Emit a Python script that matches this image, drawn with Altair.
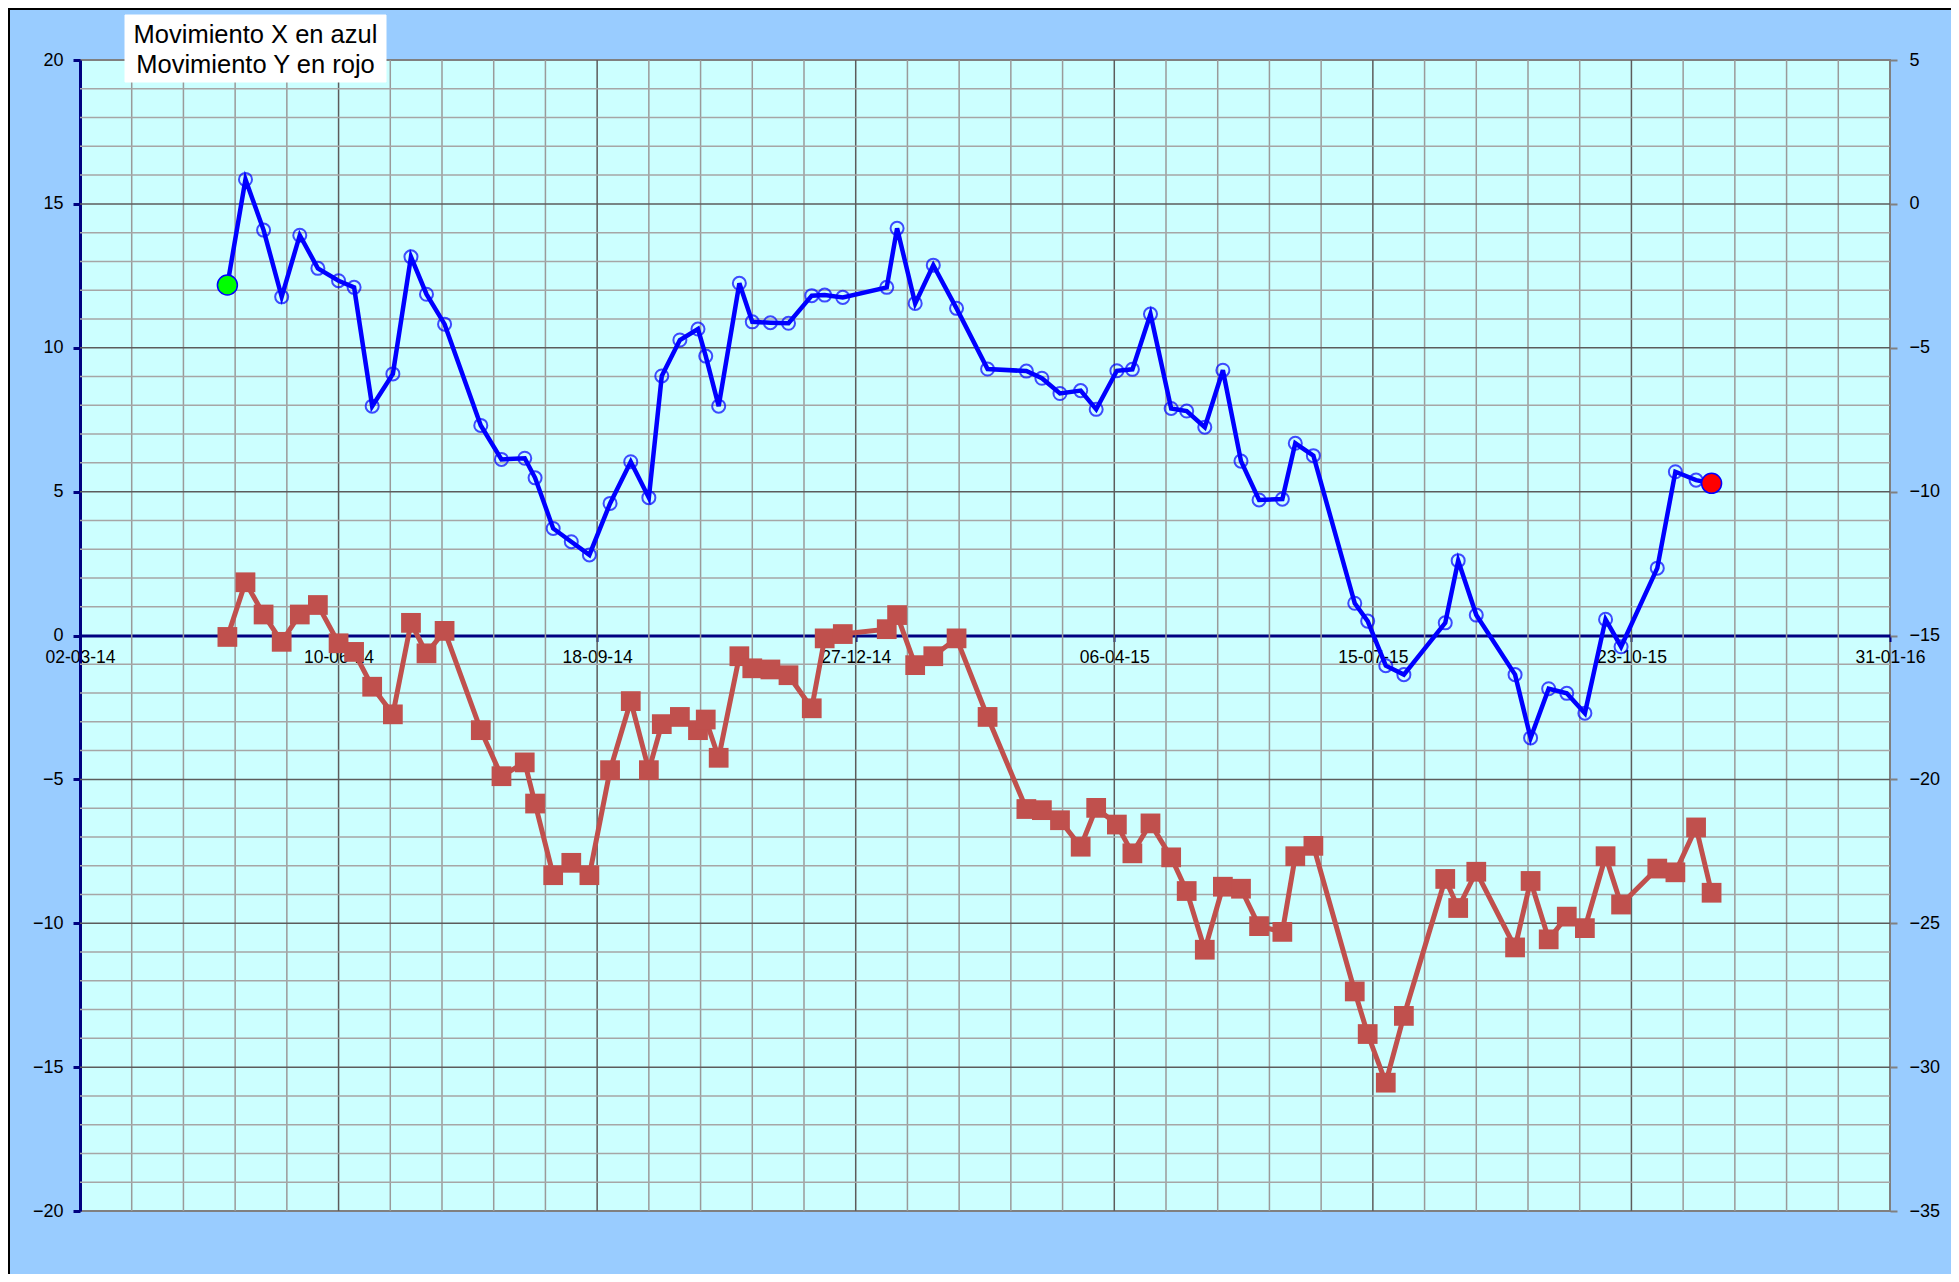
import altair as alt
import pandas as pd

DATES = [
    "2014-04-28", "2014-05-05", "2014-05-12", "2014-05-19", "2014-05-26", "2014-06-02", "2014-06-10", "2014-06-16", "2014-06-23", "2014-07-01",
    "2014-07-08", "2014-07-14", "2014-07-21", "2014-08-04", "2014-08-12", "2014-08-21", "2014-08-25", "2014-09-01", "2014-09-08", "2014-09-15",
    "2014-09-23", "2014-10-01", "2014-10-08", "2014-10-13", "2014-10-20", "2014-10-27", "2014-10-30", "2014-11-04", "2014-11-12", "2014-11-17",
    "2014-11-24", "2014-12-01", "2014-12-10", "2014-12-15", "2014-12-22", "2015-01-08", "2015-01-12", "2015-01-19", "2015-01-26", "2015-02-04",
    "2015-02-16", "2015-03-03", "2015-03-09", "2015-03-16", "2015-03-24", "2015-03-30", "2015-04-07", "2015-04-13", "2015-04-20", "2015-04-28",
    "2015-05-04", "2015-05-11", "2015-05-18", "2015-05-25", "2015-06-01", "2015-06-10", "2015-06-15", "2015-06-22", "2015-07-08", "2015-07-13",
    "2015-07-20", "2015-07-27", "2015-08-12", "2015-08-17", "2015-08-24", "2015-09-08", "2015-09-14", "2015-09-21", "2015-09-28", "2015-10-05",
    "2015-10-13", "2015-10-19", "2015-11-02", "2015-11-09", "2015-11-17", "2015-11-23",
]

# Movimiento X (left axis)
MOV_X = [
    12.18, 15.85, 14.09, 11.77, 13.91, 12.76, 12.33, 12.10, 7.97, 9.09,
    13.16, 11.86, 10.82, 7.30, 6.12, 6.16, 5.48, 3.72, 3.26, 2.80,
    4.59, 6.04, 4.79, 9.02, 10.27, 10.65, 9.71, 7.97, 12.24, 10.90,
    10.87, 10.85, 11.81, 11.83, 11.75, 12.10, 14.15, 11.54, 12.87, 11.37,
    9.26, 9.19, 8.94, 8.41, 8.51, 7.86, 9.20, 9.25, 11.17, 7.89,
    7.80, 7.24, 9.22, 6.06, 4.71, 4.74, 6.68, 6.25, 1.12, 0.50,
    -1.05, -1.36, 0.44, 2.60, 0.71, -1.36, -3.56, -1.85, -2.01, -2.70,
    0.56, -0.39, 2.34, 5.69, 5.40, 5.29,
]

# Movimiento Y (right axis)
MOV_Y = [
    -15.05, -13.15, -14.27, -15.22, -14.27, -13.94, -15.27, -15.57, -16.78, -17.74,
    -14.56, -15.62, -14.84, -18.29, -19.89, -19.41, -20.84, -23.33, -22.90, -23.33,
    -19.68, -17.28, -19.68, -18.08, -17.83, -18.29, -17.92, -19.25, -15.72, -16.14,
    -16.18, -16.38, -17.53, -15.10, -14.95, -14.78, -14.29, -16.03, -15.72, -15.10,
    -17.83, -21.03, -21.07, -21.42, -22.34, -20.99, -21.57, -22.57, -21.53, -22.71,
    -23.88, -25.92, -23.73, -23.80, -25.10, -25.30, -22.67, -22.31, -27.37, -28.85,
    -30.54, -28.22, -23.46, -24.47, -23.21, -25.84, -23.53, -25.56, -24.77, -25.17,
    -22.67, -24.35, -23.10, -23.23, -21.67, -23.94,
]

X_TICKS = ["2014-03-02", "2014-06-10", "2014-09-18", "2014-12-27",
           "2015-04-06", "2015-07-15", "2015-10-23", "2016-01-31"]
Y_LEFT_TICKS = [-20, -15, -10, -5, 0, 5, 10, 15, 20]
Y_RIGHT_TICKS = [-35, -30, -25, -20, -15, -10, -5, 0, 5]
LEGEND_LINES = ["Movimiento X en azul", "Movimiento Y en rojo"]

FONT = "Liberation Sans"
NAVY = "#000080"

# ---- grid positions (derived from tick positions) ----
all_x_grid = [d.strftime("%Y-%m-%d") for d in pd.date_range(X_TICKS[0], X_TICKS[-1], freq="20D")]
x_major_grid = X_TICKS[1:-1]
x_minor_grid = [d for d in all_x_grid if d not in X_TICKS]
y_major_grid = [v for v in Y_LEFT_TICKS if v not in (-20, 0, 20)]
y_minor_grid = [v for v in range(-19, 20) if v % 5 != 0]


def dt(s):
    t = pd.Timestamp(s)
    return alt.DateTime(year=t.year, month=t.month, date=t.day, utc=True)


xscale = alt.Scale(type="utc", domain=[dt(X_TICKS[0]), dt(X_TICKS[-1])], nice=False)
yleft = alt.Scale(domain=[-20, 20], nice=False)
yright = alt.Scale(domain=[-35, 5], nice=False)

x_axis = alt.Axis(
    values=[dt(s) for s in X_TICKS], format="%d-%m-%y", title=None, grid=False,
    labelFont=FONT, labelFontSize=17.5, labelColor="black", labelPadding=7,
    labelFlush=False, labelOverlap=False, labelBound=False,
    domainColor=NAVY, domainWidth=3, tickColor=NAVY, tickWidth=2, tickSize=6,
    offset=-575.5,
)
left_axis = alt.Axis(
    values=Y_LEFT_TICKS, title=None, grid=False,
    labelFont=FONT, labelFontSize=18, labelColor="black", labelPadding=10,
    domainColor=NAVY, domainWidth=3, tickColor=NAVY, tickWidth=3, tickSize=7,
)
right_axis = alt.Axis(
    values=Y_RIGHT_TICKS, title=None, grid=False, orient="right",
    labelFont=FONT, labelFontSize=18, labelColor="black", labelPadding=12,
    domain=False, tickColor="#808080", tickWidth=2, tickSize=7,
)

XENC = alt.X("date:T", scale=xscale, axis=x_axis)

df = pd.DataFrame({"date": DATES, "x": MOV_X, "y": MOV_Y})
first = df.iloc[[0]]
last = df.iloc[[-1]]

xminor = alt.Chart(pd.DataFrame({"date": x_minor_grid})).mark_rule(
    color="#9a9a9a", strokeWidth=1.5
).encode(x=XENC)
xmajor = alt.Chart(pd.DataFrame({"date": x_major_grid})).mark_rule(
    color="#5c5c5c", strokeWidth=1.5
).encode(x=XENC)
yminor = alt.Chart(pd.DataFrame({"x": y_minor_grid})).mark_rule(
    color="#a6a6a6", strokeWidth=1.5
).encode(y=alt.Y("x:Q", scale=yleft, axis=left_axis))
ymajor = alt.Chart(pd.DataFrame({"x": y_major_grid})).mark_rule(
    color="#5c5c5c", strokeWidth=1.5
).encode(y=alt.Y("x:Q", scale=yleft, axis=left_axis))

YL = alt.Y("x:Q", scale=yleft, axis=left_axis)
base = alt.Chart(df)
blue_line = base.mark_line(color="#0000FF", strokeWidth=4.5).encode(x=XENC, y=YL)
blue_pts = base.mark_point(shape="circle", filled=False, size=170, strokeWidth=2,
                           color="#0000FF").encode(x=XENC, y=YL)
start_pt = alt.Chart(first).mark_point(shape="circle", filled=True, size=400, fill="#00FF00",
                                       stroke="#0000FF", strokeWidth=1.5, opacity=1).encode(x=XENC, y=YL)
end_pt = alt.Chart(last).mark_point(shape="circle", filled=True, size=400, fill="#FF0000",
                                    stroke="#0000FF", strokeWidth=1.5, opacity=1).encode(x=XENC, y=YL)

left_group = alt.layer(xminor, xmajor, yminor, ymajor, blue_line, blue_pts, start_pt, end_pt)

YR = alt.Y("y:Q", scale=yright, axis=right_axis)
red_line = base.mark_line(color="#C0504D", strokeWidth=5).encode(x=XENC, y=YR)
red_sq = base.mark_square(size=390, color="#C0504D", opacity=1).encode(x=XENC, y=YR)
right_group = alt.layer(red_line, red_sq)

one = pd.DataFrame({"k": [0]})
legend_box = alt.Chart(one).mark_rect(fill="white", stroke="white").encode(
    x=alt.value(45), x2=alt.value(306), y=alt.value(-45), y2=alt.value(22)
)
legend_t1 = alt.Chart(one).mark_text(font=FONT, fontSize=25.5, color="black", align="center",
                                     baseline="alphabetic").encode(
    x=alt.value(175.5), y=alt.value(-17.5), text=alt.value(LEGEND_LINES[0])
)
legend_t2 = alt.Chart(one).mark_text(font=FONT, fontSize=25.5, color="black", align="center",
                                     baseline="alphabetic").encode(
    x=alt.value(175.5), y=alt.value(12.5), text=alt.value(LEGEND_LINES[1])
)
border_top = alt.Chart(one).mark_rule(color="black", strokeWidth=2).encode(
    x=alt.value(-72), x2=alt.value(1890), y=alt.value(-51)
)
border_left = alt.Chart(one).mark_rule(color="black", strokeWidth=2).encode(
    x=alt.value(-71), y=alt.value(-52), y2=alt.value(1215)
)

chart = alt.layer(
    left_group, right_group, legend_box, legend_t1, legend_t2, border_top, border_left
).resolve_scale(y="independent").properties(
    width=1810, height=1151,
    background="#99CCFF",
    padding={"left": 72, "top": 52, "right": 61, "bottom": 63},
    autosize=alt.AutoSizeParams(type="none"),
).configure_view(fill="#CCFFFF", stroke="#808080", strokeWidth=2)

chart.save("out.html", embed_options={"renderer": "svg", "actions": False})
